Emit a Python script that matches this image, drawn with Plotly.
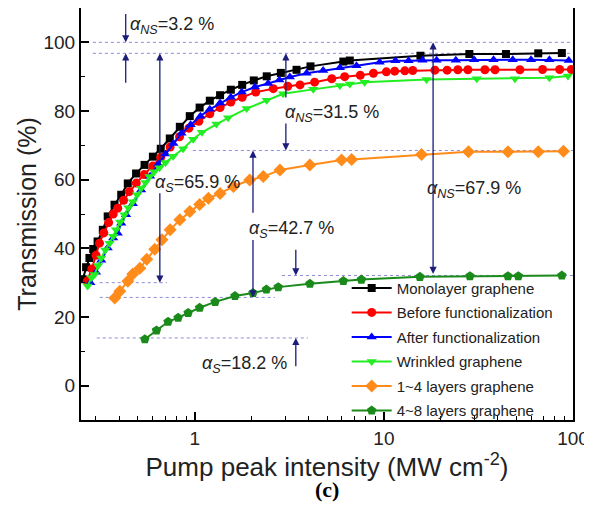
import numpy as np
import plotly.graph_objects as go

# ---------------- data ----------------
mono_x = [0.255,0.266,0.277,0.29,0.306,0.326,0.346,0.376,0.408,0.442,0.489,0.542,0.6,0.66,0.737,0.833,0.94,1.06,1.2,1.36,1.55,1.78,2.05,2.4,2.85,3.45,4.09,6.1,6.6,15.6,28.3,44.2,65.5,87.3]
mono_y = [31,34.5,37.2,39.8,42,45.4,49.3,52.7,55.6,58.9,61.8,64.3,66.7,69,72,75.4,78.5,81,83,84.6,86.2,87.6,88.9,90.1,91.1,92,93.0,94.4,94.7,96.1,96.6,96.6,96.8,96.9]

before_x = [0.27,0.285,0.3,0.313,0.33,0.35,0.37,0.391,0.42,0.45,0.49,0.54,0.6,0.66,0.74,0.83,0.93,1.05,1.2,1.36,1.55,1.78,2.1,2.6,3.1,3.6,4.3,5.3,6.2,7.5,8.8,10.3,11.4,12.9,14.2,18.6,21.6,24.6,27.8,34.2,38.7,52.4,69,85,98]
before_y = [30.5,34,38,41.5,44.5,47.5,50,51.7,54,56.5,59,61.5,64,66.5,69.5,72.5,75,77,79.2,81,82.6,84,85.5,86.5,87.2,87.6,88.4,89.4,90,90.4,91,91.4,91.6,91.7,91.8,91.9,91.9,92,92,92,92,92,92.1,92.1,92.1]

after_x = [0.28,0.3,0.32,0.346,0.37,0.391,0.408,0.433,0.47,0.52,0.58,0.64,0.7,0.77,0.85,0.95,1.07,1.2,1.36,1.55,1.77,2.08,2.44,2.8,3.18,3.9,4.77,5.85,7.16,9.5,11.5,13.5,16,19,24,30,38,48,60,75,95]
after_y = [30,33,36.5,40.1,43,44.4,47.3,49.8,53,57,61,64.5,67.5,70.5,73.5,76,78.5,80.5,82.3,84,85.5,87,88,89,89.9,91,91.8,92.6,93.2,94.2,94.6,94.6,94.8,94.8,94.8,94.9,94.9,94.9,94.9,94.9,94.7]

wrinkled_x = [0.271,0.284,0.295,0.308,0.32,0.336,0.354,0.37,0.383,0.403,0.424,0.445,0.47,0.495,0.52,0.548,0.576,0.61,0.65,0.7,0.768,0.867,0.98,1.09,1.3,1.5,1.88,2.4,2.93,4.23,5.85,6.6,7.9,16.8,31,49.3,75,94]
wrinkled_y = [29,31.5,32.4,35,37.2,39.5,41.5,43.5,45.4,47.7,49.8,51.8,53.6,55.6,57.5,59.2,60.9,62.3,63.5,65,66.8,69,71.8,73.8,76.2,78,80.7,83.1,85,86.3,87.4,87.9,88.4,89.2,89.4,89.4,89.7,90.2]

l14_x = [0.377,0.401,0.442,0.47,0.512,0.557,0.614,0.67,0.74,0.833,0.941,1.06,1.18,1.36,1.6,1.95,2.3,2.82,4.06,5.97,6.75,15.8,28,45.3,65.5,89]
l14_y = [25.5,27.5,30.4,32.5,34.2,36.8,39.7,42.5,45.4,48.3,50.7,52.8,54.6,56,58,59.9,60.9,62.8,64.3,65.7,65.9,67.3,68.1,68.1,68.1,68.3]

l48_x = [0.544,0.627,0.722,0.816,0.922,1.06,1.28,1.63,2.03,2.39,2.76,4.06,6.1,7.6,15.5,28.5,45.3,51.4,87.3]
l48_y = [13.5,16.1,18.6,19.8,21.2,22.7,24.4,26.1,27,28,28.7,29.7,30.5,30.9,31.7,31.9,31.9,31.9,32.1]

series_names = ["Monolayer graphene", "Before functionalization", "After functionalization",
                "Wrinkled graphene", "1~4 layers graphene", "4~8 layers graphene"]

# reference levels (dotted lines): level, x start, x end
ref_levels = [100, 96.8, 68.5, 30.0, 25.7, 13.9, 32.1]
ref_x0 = [0.289, 0.289, 0.976, 0.314, 0.314, 0.303, 2.89]
ref_x1 = [100, 100, 100, 0.711, 2.65, 3.96, 100]

# arrows: x, tail y, head y
arrow_x = [0.431, 0.431, 0.653, 0.653, 3.03, 3.03, 2.03, 2.03, 3.42, 3.42]
arrow_tail = [108.7, 87.8, 63.8, 56.5, 83.5, 76.8, 49.9, 42.9, 40.0, 5.2]
arrow_head = [100, 96.8, 96.8, 30.0, 96.8, 68.5, 68.5, 25.7, 32.1, 13.9]

# labels
label_text = ["<i>α</i><sub><i>NS</i></sub>=3.2 %", "<i>α</i><sub><i>S</i></sub>=65.9 %",
              "<i>α</i><sub><i>NS</i></sub>=31.5 %", "<i>α</i><sub><i>S</i></sub>=42.7 %",
              "<i>α</i><sub><i>NS</i></sub>=67.9 %", "<i>α</i><sub><i>S</i></sub>=18.2 %"]
label_x = [0.442, 0.60, 2.92, 1.88, 16.5, 1.06]
label_y = [104.8, 59.0, 79.3, 45.4, 57.0, 6.2]

# ---------------- figure ----------------
fig = go.Figure()

navy = "#1c1c7a"
dot_col = "#8c8cd8"

for lv, a, b in zip(ref_levels, ref_x0, ref_x1):
    fig.add_trace(go.Scatter(x=[a, b], y=[lv, lv], mode="lines", showlegend=False,
                             hoverinfo="skip",
                             line=dict(color=dot_col, width=1, dash="dot")))

styles = [
    ("#000000", "square", 8),
    ("#ff0000", "circle", 9),
    ("#0000ff", "triangle-up", 9),
    ("#22ee22", "triangle-down", 9),
    ("#ff8c1a", "diamond", 10),
    ("#1a8a1a", "pentagon", 10),
]
data = [(mono_x, mono_y), (before_x, before_y), (after_x, after_y),
        (wrinkled_x, wrinkled_y), (l14_x, l14_y), (l48_x, l48_y)]

for i, ((xs, ys), (col, sym, sz), nm) in enumerate(zip(data, styles, series_names)):
    fig.add_trace(go.Scatter(x=xs, y=ys, mode="lines+markers", name=nm,
                             legendgroup=f"g{i}",
                             line=dict(color=col, width=2),
                             marker=dict(color=col, symbol=sym, size=sz,
                                         line=dict(width=0))))

annotations = []
for xv, t, h in zip(arrow_x, arrow_tail, arrow_head):
    annotations.append(dict(x=np.log10(xv), y=h, ax=np.log10(xv), ay=t,
                            xref="x", yref="y", axref="x", ayref="y",
                            text="", showarrow=True, arrowhead=2, arrowsize=1.1,
                            arrowwidth=1.3, arrowcolor=navy))
# double-headed arrow for 67.9 %
annotations.append(dict(x=np.log10(18.2), y=100, ax=np.log10(18.2), ay=32.1,
                        xref="x", yref="y", axref="x", ayref="y",
                        text="", showarrow=True, arrowhead=2, startarrowhead=2,
                        arrowside="end+start", arrowsize=1.1, startarrowsize=1.1,
                        arrowwidth=1.3, arrowcolor=navy))

for t, xv, yv in zip(label_text, label_x, label_y):
    annotations.append(dict(x=np.log10(xv), y=yv, xref="x", yref="y", text=t,
                            showarrow=False, xanchor="left", yanchor="middle",
                            font=dict(family="Liberation Sans, Arial", size=18, color="#222222")))

annotations.append(dict(x=0.5, y=-0.168, xref="paper", yref="paper", text="<b>(c)</b>",
                        showarrow=False, xanchor="center", yanchor="middle",
                        font=dict(family="Liberation Serif, Times New Roman", size=22, color="black")))

fig.update_layout(
    width=584, height=498,
    margin=dict(l=73, r=19, t=0, b=86, autoexpand=False),
    paper_bgcolor="white", plot_bgcolor="white",
    font=dict(family="Liberation Sans, Arial", color="#222222"),
    showlegend=True,
    legend=dict(x=0.54, y=0.36, xanchor="left", yanchor="top",
                bgcolor="rgba(0,0,0,0)", borderwidth=0,
                font=dict(size=15, color="#222222"),
                traceorder="grouped", tracegroupgap=2,
                itemwidth=40),
    annotations=annotations,
)

fig.update_xaxes(type="log", range=[np.log10(0.25), 2], automargin=False,
                 tickvals=[1, 10, 100], ticktext=["1", "10", "100"],
                 ticks="inside", ticklen=8, tickwidth=1.5, tickcolor="black",
                 minor=dict(ticks="inside", ticklen=4, tickwidth=1.2, tickcolor="black",
                            tickvals=[0.3,0.4,0.5,0.6,0.7,0.8,0.9,2,3,4,5,6,7,8,9,
                                      20,30,40,50,60,70,80,90], showgrid=False),
                 showline=True, linecolor="black", linewidth=2, mirror=True,
                 showgrid=False, zeroline=False,
                 tickfont=dict(size=19, color="#222222"),
                 title=dict(text="Pump peak intensity (MW cm<sup>-2</sup>)",
                            font=dict(size=26, color="#222222"), standoff=0))

fig.update_yaxes(range=[-10, 110], tickvals=[0, 20, 40, 60, 80, 100], automargin=False,
                 ticks="inside", ticklen=8, tickwidth=1.5, tickcolor="black",
                 minor=dict(ticks="inside", ticklen=4, tickwidth=1.2, tickcolor="black",
                            tickvals=[-10, 10, 30, 50, 70, 90, 110], showgrid=False),
                 showline=True, linecolor="black", linewidth=2, mirror=True,
                 showgrid=False, zeroline=False,
                 tickfont=dict(size=19, color="#222222"),
                 title=dict(text="Transmission (%)", font=dict(size=25, color="#222222"),
                            standoff=0))

fig.write_html("out.html")
